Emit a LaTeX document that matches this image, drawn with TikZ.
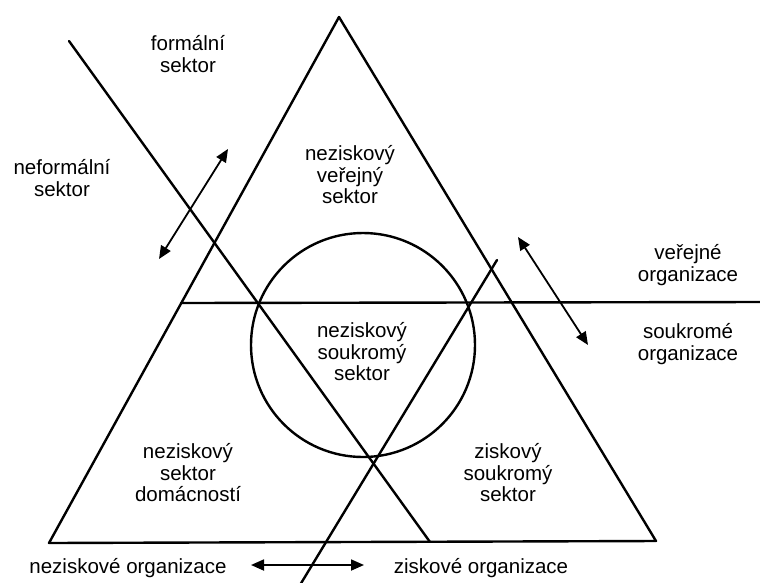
\documentclass[tikz,border=0pt]{standalone}
\usepackage{fontspec}
\setmainfont{Liberation Sans}
\usetikzlibrary{arrows.meta}
\begin{document}
\begin{tikzpicture}[x=1pt,y=-1pt,
  ln/.style={line width=2.4pt, line cap=round, line join=round},
  dbl/.style={line width=1.8pt, {Triangle[length=13pt,width=11pt]}-{Triangle[length=13pt,width=11pt]}},
  lbl/.style={align=center, inner sep=0pt, font=\fontsize{20.5}{21.5}\selectfont}]
\useasboundingbox (0,0) rectangle (760,582);
% triangle corners
\coordinate (apex) at (339,17);
\coordinate (bl) at (49,543);
\coordinate (br) at (656,541);
\draw[ln] (apex) -- (bl) -- (br) -- cycle;
% horizontal public/private line
\coordinate (hL) at (181,303);
\coordinate (hR) at (760,302);
\draw[ln] (hL) -- (hR);
% formal/informal diagonal
\coordinate (fA) at (69,41);
\coordinate (fB) at (430,542);
\draw[ln] (fA) -- (fB);
% profit/nonprofit diagonal
\coordinate (pA) at (497,260);
\coordinate (pB) at (300,585);
\draw[ln] (pA) -- (pB);
% circle
\coordinate (cc) at (363,345);
\draw[ln] (cc) circle[radius=112];
% double arrows
\coordinate (a1) at (159,259);
\coordinate (a2) at (228,149);
\draw[dbl] (a1) -- (a2);
\coordinate (b1) at (518,237);
\coordinate (b2) at (588,345);
\draw[dbl] (b1) -- (b2);
\coordinate (c1) at (251,565);
\coordinate (c2) at (364,565);
\draw[dbl] (c1) -- (c2);
% labels
\node[lbl] (formal) at (188,54) {formální\\sektor};
\node[lbl] (neformal) at (62,178) {neformální\\sektor};
\node[lbl] (nvs) at (350,175) {neziskový\\veřejný\\sektor};
\node[lbl] (vo) at (688,265) {veřejné\\organizace};
\node[lbl] (so) at (688,344) {soukromé\\organizace};
\node[lbl] (nss) at (362,352) {neziskový\\soukromý\\sektor};
\node[lbl] (nsd) at (188,473) {neziskový\\sektor\\domácností};
\node[lbl] (zss) at (508,473) {ziskový\\soukromý\\sektor};
\node[lbl] (no) at (128,568) {neziskové organizace};
\node[lbl] (zo) at (481,568) {ziskové organizace};
\end{tikzpicture}
\end{document}
